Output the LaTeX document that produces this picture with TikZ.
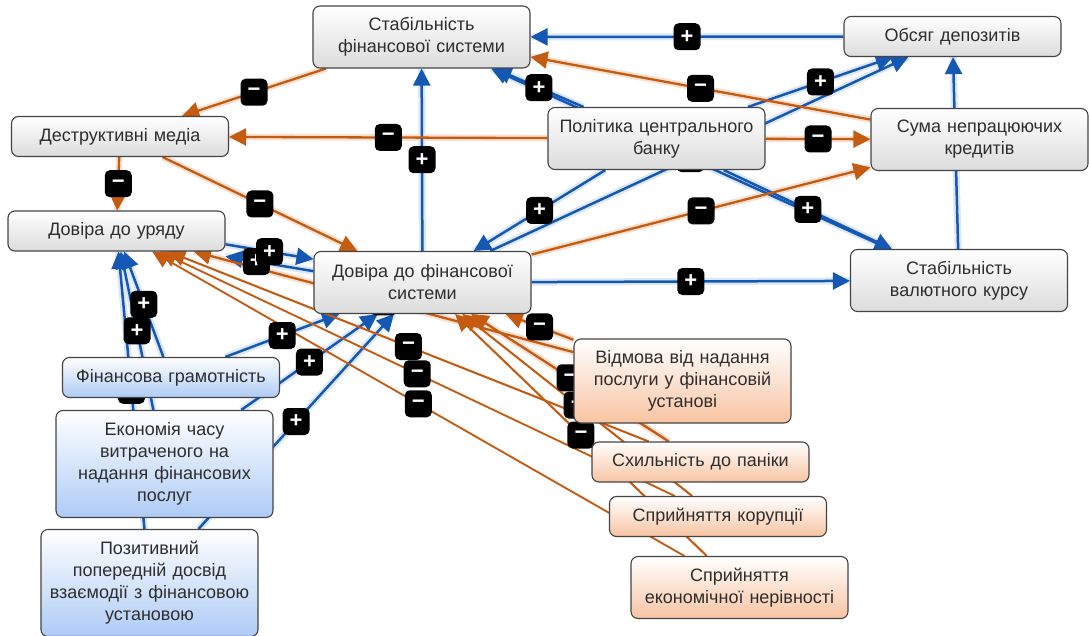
\documentclass[tikz,border=0pt]{standalone}
\usepackage{fontspec}
\setmainfont{Liberation Sans}
\usetikzlibrary{arrows.meta}
\definecolor{bl}{HTML}{1458B4}
\definecolor{blhalo}{HTML}{DCE7F7}
\definecolor{orr}{HTML}{C55A11}
\definecolor{orhalo}{HTML}{F7E0D0}
\definecolor{txt}{HTML}{2E2E2E}
\definecolor{bord}{HTML}{444444}
\definecolor{grayb}{HTML}{DCDCDC}
\definecolor{blueb}{HTML}{AECBF6}
\definecolor{orb}{HTML}{F8C4A2}
\pgfdeclarelayer{bg}
\pgfdeclarelayer{halo}
\pgfdeclarelayer{lines}
\pgfdeclarelayer{signs}
\pgfsetlayers{bg,halo,lines,signs,main}
\tikzset{
  box/.style={draw=bord, line width=1.1pt, rounded corners=7pt, minimum width=217pt,
    text width=215pt, align=center, text=txt, inner sep=0pt,
    font=\fontsize{18}{22}\selectfont},
  graybox/.style={box, top color=white, bottom color=grayb},
  bluebox/.style={box, top color=white, bottom color=blueb},
  orbox/.style={box, top color=white, bottom color=orb},
  hA/.style={minimum height=40pt},
  hB/.style={minimum height=62pt},
  hC/.style={minimum height=84pt},
  hD/.style={minimum height=107pt},
  pe/.style={draw=bl, line width=2.5pt, -{Triangle[length=17pt,width=17pt]}},
  ne/.style={draw=orr, line width=2.3pt, -{Triangle[length=17pt,width=17pt]}},
  peh/.style={draw=blhalo, line width=7pt},
  neh/.style={draw=orhalo, line width=6.5pt},
  sign/.style={fill=black, rounded corners=5pt, minimum size=27pt, inner sep=0pt,
    text=white, font=\fontsize{22}{22}\selectfont\bfseries},
}
% \lnk{style}{sign}{from}{to}{shift options}{label options}
\newcommand\lnk[6]{%
  \begin{pgfonlayer}{halo}\draw[#1h,#5] (#3) -- (#4);\end{pgfonlayer}%
  \begin{pgfonlayer}{lines}\draw[#1,#5] (#3) -- (#4);\end{pgfonlayer}%
  \begin{pgfonlayer}{signs}\path[#5] (#3) -- node[sign,#6]{#2} (#4);\end{pgfonlayer}}
\begin{document}
\begin{tikzpicture}[x=1pt,y=-1pt]
\useasboundingbox (0,0) rectangle (1089,636);
\begin{pgfonlayer}{bg}\fill[white] (0,0) rectangle (1089,636);\end{pgfonlayer}
% nodes
\node[graybox,hB] (SFS) at (421.5,37) {Стабільність\\фінансової системи};
\node[graybox,hA] (OD) at (952.5,36.5) {Обсяг депозитів};
\node[graybox,hA] (DM) at (120,136.5) {Деструктивні медіа};
\node[graybox,hB] (PCB) at (656.5,138.5) {Політика центрального\\банку};
\node[graybox,hB] (SNK) at (979.5,139.5) {Сума непрацюючих\\кредитів};
\node[graybox,hA] (DU) at (116.5,231) {Довіра до уряду};
\node[graybox,hB] (DFS) at (422.5,282.5) {Довіра до фінансової\\системи};
\node[graybox,hB] (SVK) at (959,280.5) {Стабільність\\валютного курсу};
\node[bluebox,hA] (FG) at (171,377.5) {Фінансова грамотність};
\node[bluebox,hD] (EC) at (164.5,464) {Економія часу\\витраченого на\\надання фінансових\\послуг};
\node[bluebox,hD] (PD) at (149.5,583) {Позитивний\\попередній досвід\\взаємодії з фінансовою\\установою};
\node[orbox,hC] (VV) at (682.5,381) {Відмова від надання\\послуги у фінансовій\\установі};
\node[orbox,hA] (SP) at (700.5,462) {Схильність до паніки};
\node[orbox,hA] (SK) at (718,516.5) {Сприйняття корупції};
\node[orbox,hB] (SEN) at (739.5,587.5) {Сприйняття\\економічної нерівності};
% positive links
\lnk{pe}{+}{OD}{SFS}{}{}
\lnk{pe}{+}{PCB}{SFS}{}{}
\lnk{pe}{+}{SVK}{SFS}{}{}
\lnk{pe}{+}{DFS}{SFS}{}{}
\lnk{pe}{+}{PCB}{OD}{}{}
\lnk{pe}{+}{DFS}{OD}{}{}
\lnk{pe}{+}{SVK}{OD}{}{}
\lnk{pe}{+}{PCB}{DFS}{}{}
\lnk{pe}{+}{PCB}{SVK}{}{}
\lnk{pe}{+}{DFS}{SVK}{}{}
\lnk{pe}{+}{DFS}{DU}{transform canvas={yshift=-7pt}}{pos=0.65}
\lnk{pe}{+}{DU}{DFS}{transform canvas={yshift=5pt}}{}
\lnk{pe}{+}{FG}{DU}{}{}
\lnk{pe}{+}{EC}{DU}{}{}
\lnk{pe}{+}{PD}{DU}{}{}
\lnk{pe}{+}{FG}{DFS}{}{}
\lnk{pe}{+}{EC}{DFS}{}{}
\lnk{pe}{+}{PD}{DFS}{}{}
% negative links
\lnk{ne}{−}{SNK}{SFS}{}{}
\lnk{ne}{−}{SFS}{DM}{}{}
\lnk{ne}{−}{PCB}{DM}{}{}
\lnk{ne}{−}{DM}{DU}{}{}
\lnk{ne}{−}{DM}{DFS}{}{}
\lnk{ne}{−}{PCB}{SNK}{}{}
\lnk{ne}{−}{DFS}{SNK}{}{}
\lnk{ne}{−}{VV}{DU}{}{}
\lnk{ne}{−}{SP}{DU}{line width=2pt}{}
\lnk{ne}{−}{SK}{DU}{line width=1.8pt}{}
\lnk{ne}{−}{SEN}{DU}{line width=1.8pt}{}
\lnk{ne}{−}{VV}{DFS}{}{}
\lnk{ne}{−}{SP}{DFS}{}{}
\lnk{ne}{−}{SK}{DFS}{line width=2pt}{}
\lnk{ne}{−}{SEN}{DFS}{line width=2pt}{}
\end{tikzpicture}
\end{document}
